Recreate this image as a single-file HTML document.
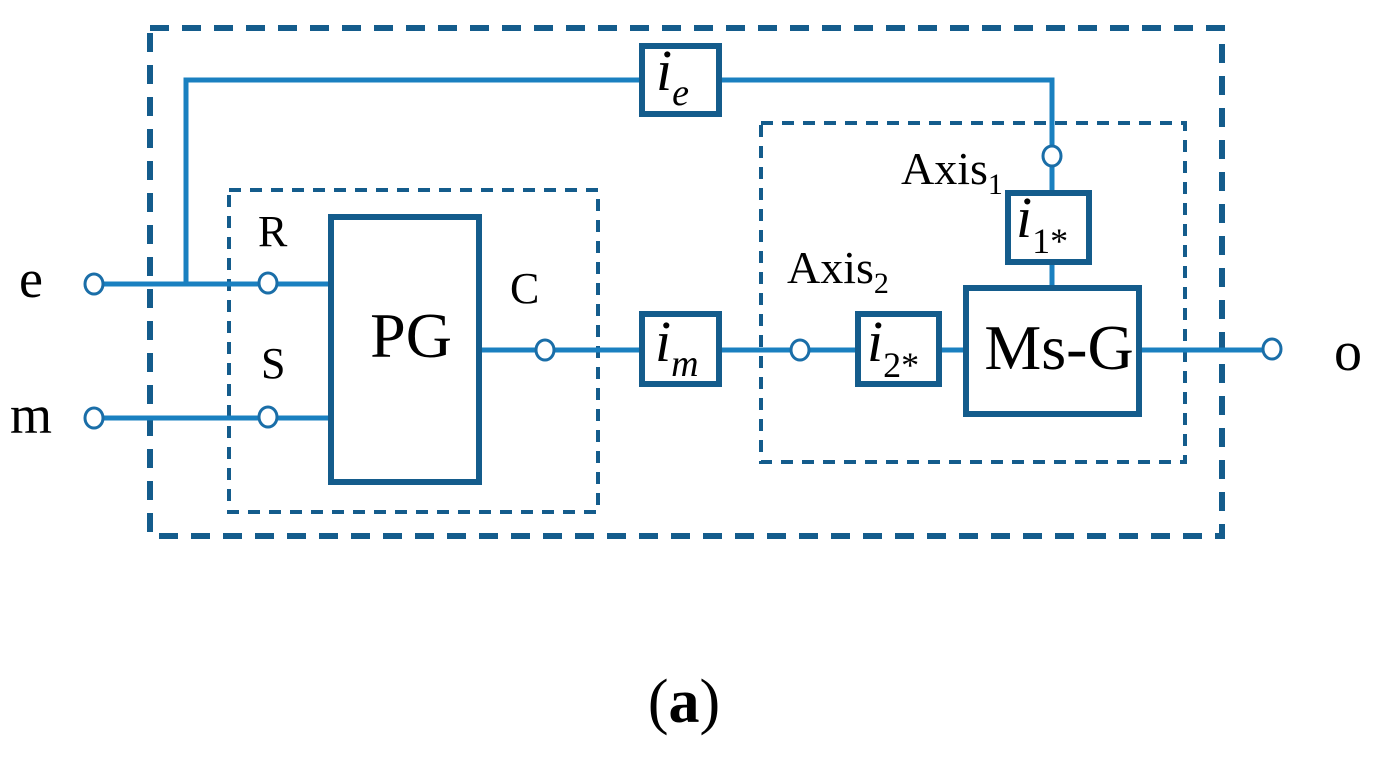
<!DOCTYPE html>
<html><head><meta charset="utf-8"><style>
html,body{margin:0;padding:0;background:#fff;}
svg{display:block;}
text{font-family:"Liberation Serif",serif;fill:#000;}
</style></head><body>
<svg width="1387" height="764" viewBox="0 0 1387 764" xmlns="http://www.w3.org/2000/svg">
<g fill="none" stroke="#145c8c">
<rect x="150" y="28" width="1072" height="508" stroke-width="6" stroke-dasharray="19,13"/>
<rect x="229" y="190" width="369" height="322" stroke-width="4" stroke-dasharray="12,9"/>
<rect x="761" y="123" width="424" height="339" stroke-width="4" stroke-dasharray="12,9"/>
</g>
<g stroke="#1a80c0" stroke-width="5" fill="none">
<polyline points="186,283 186,80 642,80"/>
<polyline points="718,80 1052,80 1052,147"/>
<line x1="1052" y1="165" x2="1052" y2="193"/>
<line x1="1052" y1="262" x2="1052" y2="288"/>
<line x1="103" y1="284" x2="259" y2="284"/>
<line x1="277" y1="284" x2="331" y2="284"/>
<line x1="103" y1="418" x2="259" y2="418"/>
<line x1="277" y1="418" x2="331" y2="418"/>
<line x1="479" y1="350" x2="536" y2="350"/>
<line x1="554" y1="350" x2="642" y2="350"/>
<line x1="718" y1="350" x2="791" y2="350"/>
<line x1="809" y1="350" x2="858" y2="350"/>
<line x1="939" y1="350" x2="966" y2="350"/>
<line x1="1139" y1="350" x2="1263" y2="350"/>
</g>
<g fill="#fff" stroke="#1a6ea8" stroke-width="3">
<ellipse cx="94" cy="284" rx="9" ry="10"/>
<ellipse cx="268" cy="283" rx="9" ry="10"/>
<ellipse cx="94" cy="418" rx="9" ry="10"/>
<ellipse cx="268" cy="417" rx="9" ry="10"/>
<ellipse cx="545" cy="350" rx="9" ry="10"/>
<ellipse cx="800" cy="350" rx="9" ry="10"/>
<ellipse cx="1052" cy="156" rx="9" ry="10"/>
<ellipse cx="1272" cy="349" rx="9" ry="10"/>
</g>
<g fill="#fff" stroke="#145c8c" stroke-width="6">
<rect x="331" y="217" width="148" height="265"/>
<rect x="642" y="46" width="77" height="68"/>
<rect x="642" y="314" width="77" height="70"/>
<rect x="858" y="314" width="81" height="70"/>
<rect x="1008" y="193" width="81" height="69"/>
<rect x="966" y="288" width="173" height="126"/>
</g>
<text x="19" y="297" font-size="54">e</text>
<text x="10" y="433" font-size="54">m</text>
<text x="258" y="246" font-size="44">R</text>
<text x="261" y="378" font-size="44">S</text>
<text x="510" y="303" font-size="44">C</text>
<text x="411" y="357" font-size="64" text-anchor="middle">PG</text>
<text x="1059" y="369" font-size="64" text-anchor="middle">Ms-G</text>
<text x="1334" y="370" font-size="56">o</text>
<text x="901" y="184" font-size="46">Axis<tspan font-size="30" dy="10">1</tspan></text>
<text x="787" y="283" font-size="46">Axis<tspan font-size="30" dy="10">2</tspan></text>
<text x="656" y="90" font-size="58" font-style="italic">i<tspan font-size="38" dy="15">e</tspan></text>
<text x="655" y="361" font-size="58" font-style="italic">i<tspan font-size="38" dy="15">m</tspan></text>
<text x="867" y="361" font-size="58" font-style="italic">i<tspan font-size="36" dy="16" font-style="normal">2*</tspan></text>
<text x="1016" y="237" font-size="58" font-style="italic">i<tspan font-size="36" dy="16" font-style="normal">1*</tspan></text>
<text x="684" y="722" font-size="62" text-anchor="middle">(<tspan font-weight="bold">a</tspan>)</text>
</svg>
</body></html>
